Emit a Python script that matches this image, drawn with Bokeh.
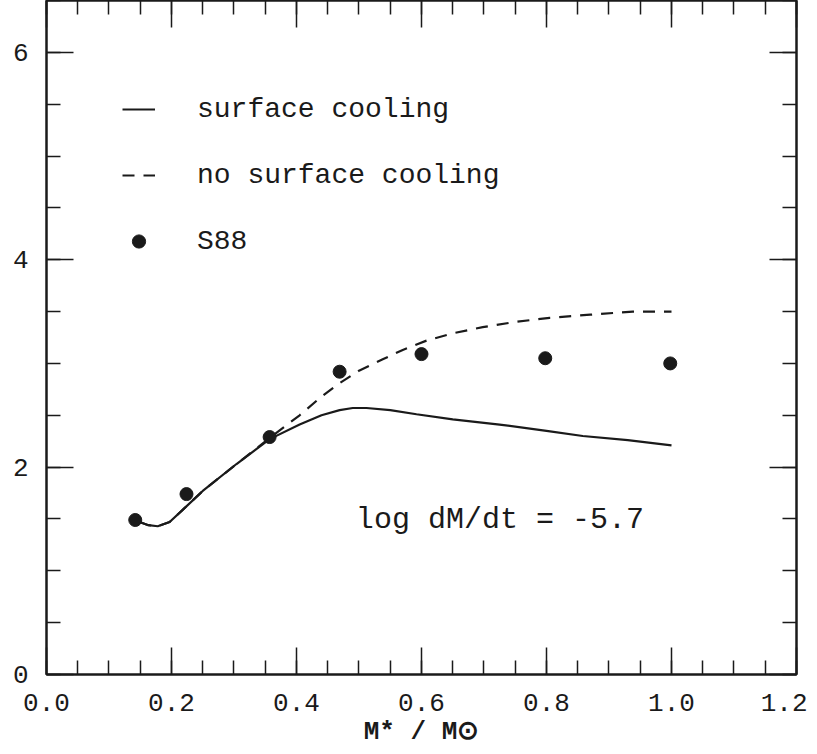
from bokeh.plotting import figure
from bokeh.models import (Range1d, LinearAxis, SingleIntervalTicker, Legend, LegendItem, Label,
                          PrintfTickFormatter, CustomJSTickFormatter)
from bokeh.embed import file_html
from bokeh.resources import INLINE

# ---- data ----
s88_x = [0.142, 0.224, 0.357, 0.469, 0.600, 0.798, 0.998]
s88_y = [1.49, 1.74, 2.29, 2.92, 3.09, 3.05, 3.00]

surf_x = [0.149, 0.163, 0.178, 0.197, 0.22, 0.25, 0.304, 0.357, 0.405, 0.44, 0.469,
          0.49, 0.512, 0.55, 0.592, 0.65, 0.725, 0.80, 0.858, 0.93, 1.0]
surf_y = [1.47, 1.44, 1.43, 1.47, 1.60, 1.77, 2.03, 2.27, 2.41, 2.50, 2.55,
          2.57, 2.57, 2.55, 2.51, 2.46, 2.41, 2.35, 2.30, 2.26, 2.21]

nosurf_x = [0.149, 0.163, 0.178, 0.197, 0.22, 0.25, 0.304, 0.357, 0.405, 0.44, 0.469,
            0.50, 0.538, 0.57, 0.608, 0.65, 0.698, 0.75, 0.805, 0.87, 0.938, 1.0]
nosurf_y = [1.47, 1.44, 1.43, 1.47, 1.60, 1.77, 2.03, 2.28, 2.50, 2.68, 2.81,
            2.93, 3.04, 3.13, 3.22, 3.29, 3.35, 3.40, 3.44, 3.47, 3.50, 3.50]

legend_labels = ["surface cooling", "no surface cooling", "S88"]
annotation_text = "log dM/dt = -5.7"
x_label = "M* / M\u2299"

FONT = "Liberation Mono"
INK = "#1a1a1a"

p = figure(width=807, height=749, output_backend="svg", toolbar_location=None,
           x_range=Range1d(0, 1.2000001), y_range=Range1d(0, 6.5),
           min_border_left=46, min_border_right=11, min_border_top=0, min_border_bottom=72)
p.background_fill_color = "white"
p.border_fill_color = "white"
p.grid.visible = False
p.outline_line_color = INK
p.outline_line_width = 2

xt = SingleIntervalTicker(interval=0.2, num_minor_ticks=4)
yt = SingleIntervalTicker(interval=2, num_minor_ticks=4)

def style_axis(ax, labels=True):
    ax.major_tick_in = 27
    ax.major_tick_out = 0
    ax.minor_tick_in = 14
    ax.minor_tick_out = 0
    ax.major_tick_line_width = 1.5
    ax.minor_tick_line_width = 1.5
    ax.major_tick_line_color = INK
    ax.minor_tick_line_color = INK
    ax.axis_line_color = INK
    ax.axis_line_width = 2
    if labels:
        ax.major_label_text_font = FONT
        ax.major_label_text_font_size = "26px"
        ax.major_label_text_color = INK
    else:
        ax.formatter = CustomJSTickFormatter(code="return ''")
        ax.major_label_text_font_size = "1px"
        ax.major_label_standoff = 0

xa = p.xaxis[0]
xa.ticker = xt
xa.formatter = PrintfTickFormatter(format="%.1f")
style_axis(xa)
xa.major_label_standoff = 19
xa.axis_label = x_label
xa.axis_label_text_font = FONT
xa.axis_label_text_font_size = "26px"
xa.axis_label_text_font_style = "bold"
xa.axis_label_text_color = INK
xa.axis_label_standoff = 3

ya = p.yaxis[0]
ya.ticker = yt
style_axis(ya)
ya.major_label_standoff = 18

top = LinearAxis(ticker=xt)
style_axis(top, labels=False)
p.add_layout(top, "above")
right = LinearAxis(ticker=yt)
style_axis(right, labels=False)
p.add_layout(right, "right")

r_surf = p.line(surf_x, surf_y, line_color=INK, line_width=2.2)
r_nosurf = p.line(nosurf_x, nosurf_y, line_color=INK, line_width=2.2, line_dash="12 9")
r_s88 = p.scatter(s88_x, s88_y, marker="circle", size=13, fill_color=INK, line_color=INK)

legend = Legend(items=[LegendItem(label=legend_labels[0], renderers=[r_surf]),
                       LegendItem(label=legend_labels[1], renderers=[r_nosurf]),
                       LegendItem(label=legend_labels[2], renderers=[r_s88])],
                location="top_left", margin=76, padding=0,
                glyph_width=33, glyph_height=66, label_height=66, spacing=0,
                label_standoff=42, border_line_color=None, background_fill_alpha=0,
                label_text_font=FONT, label_text_font_size="28px", label_text_color=INK)
p.add_layout(legend, "center")

p.add_layout(Label(x=0.495, y=1.49, text=annotation_text, text_font=FONT,
                   text_font_size="30px", text_color=INK, text_baseline="middle"))

open("out.html", "w").write(file_html(p, INLINE))
